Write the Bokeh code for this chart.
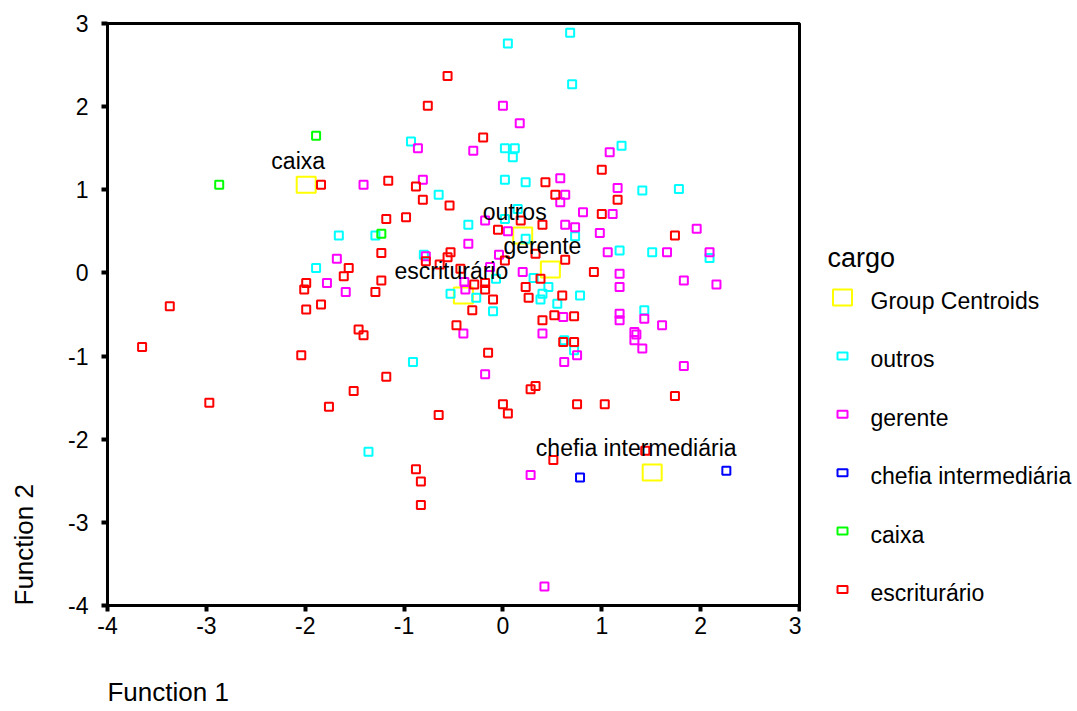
from bokeh.plotting import figure
from bokeh.models import FixedTicker, PrintfTickFormatter, Range1d, LinearAxis
from bokeh.layouts import row
from bokeh.embed import file_html
from bokeh.resources import INLINE
from bokeh.core.properties import value

FONT = "Liberation Sans"

# ---- data ----
ticks = [-4, -3, -2, -1, 0, 1, 2, 3]

legend_title = "cargo"
categories = ["outros", "gerente", "chefia intermediária", "caixa", "escriturário"]
colors = ["#00FFFF", "#FF00FF", "#0000FF", "#00FF00", "#FF0000"]

outros_x = [0.68, 0.05, 0.70, -0.93, 0.02, 0.12, 0.10, 1.20, -0.65, 0.02,
            0.23, 1.41, 1.78, -1.66, -1.29, -1.89, -0.80, -0.35, 0.02, 0.15,
            0.23, 0.73, 1.18, 1.51, 2.09, -0.53, -0.27, -0.07, 0.31, 0.46,
            0.38, 0.40, 0.78, 0.55, -0.10, 1.43, 0.62, 0.72, -0.91, -1.36]
outros_y = [2.89, 2.76, 2.27, 1.58, 1.50, 1.50, 1.39, 1.53, 0.94, 1.12,
            1.09, 0.99, 1.01, 0.45, 0.45, 0.06, 0.22, 0.58, 0.65, 0.77,
            0.41, 0.44, 0.27, 0.25, 0.18, -0.25, -0.30, -0.07, -0.06, -0.17,
            -0.32, -0.25, -0.27, -0.37, -0.46, -0.45, -0.81, -0.93, -1.07, -2.15]

gerente_x = [0.00, 0.17, -0.86, -0.30, 1.08, -0.81, -1.41, 0.58, 0.63, 0.58,
             1.16, 0.81, 1.11, -0.18, 0.05, 0.63, 0.73, 0.98, 1.96, -0.35,
             -0.04, 1.06, 1.66, 2.09, -1.68, -0.78, -0.13, 0.20, 1.18, 1.18,
             1.83, 2.16, -1.78, -1.59, -0.39, -0.38, 1.18, 1.18, 1.43, 1.61,
             0.61, -0.40, 0.40, 1.33, 1.35, 1.33, 1.41, 0.75, 0.62, 1.83,
             -0.18, 0.28, 0.42]
gerente_y = [2.01, 1.80, 1.50, 1.47, 1.45, 1.12, 1.06, 1.14, 0.94, 0.85,
             1.02, 0.73, 0.71, 0.63, 0.50, 0.58, 0.55, 0.48, 0.53, 0.35,
             0.22, 0.25, 0.25, 0.25, 0.17, 0.20, 0.07, 0.01, -0.01, -0.17,
             -0.09, -0.14, -0.12, -0.23, -0.11, -0.20, -0.49, -0.57, -0.55, -0.63,
             -0.53, -0.73, -0.73, -0.71, -0.74, -0.81, -0.91, -0.99, -1.07, -1.12,
             -1.22, -2.43, -3.77]

chefia_x = [0.78, 2.26]
chefia_y = [-2.46, -2.38]

caixa_x = [-1.89, -2.87, -1.23]
caixa_y = [1.65, 1.06, 0.47]

escrit_x = [-0.56, -0.76, -0.20, 1.00, -1.84, -1.16, -0.88, -0.81, 0.43, 0.53,
            1.16, -0.54, -1.18, -0.98, 1.00, 0.18, -0.05, 0.40, 1.74, -1.23,
            -0.78, -0.53, -0.56, -0.64, -0.43, 0.02, 0.33, 0.63, -1.56, -1.61,
            -1.99, -2.01, -1.23, -1.29, 0.38, 0.92, -0.29, -0.18, -0.18, 0.23,
            -0.10, 0.26, 0.60, -0.31, 0.40, 0.52, 0.72, -0.47, 0.61, 0.72,
            -0.15, 0.28, 0.33, 0.00, 0.05, 0.75, 1.03, 1.74, 1.44, 0.51,
            -1.84, -1.99, -3.37, -3.65, -1.46, -1.41, -2.04, -1.18, -1.51, -2.97,
            -1.76, -0.65, -0.88, -0.83, -0.83]
escrit_y = [2.37, 2.01, 1.63, 1.24, 1.06, 1.11, 1.04, 0.88, 1.09, 0.94,
            0.88, 0.81, 0.65, 0.67, 0.71, 0.63, 0.52, 0.58, 0.45, 0.24,
            0.14, 0.25, 0.19, 0.10, 0.05, 0.15, 0.23, 0.16, 0.06, -0.04,
            -0.12, -0.20, -0.09, -0.23, -0.07, 0.01, -0.14, -0.12, -0.20, -0.17,
            -0.32, -0.30, -0.27, -0.45, -0.57, -0.51, -0.52, -0.63, -0.83, -0.83,
            -0.96, -1.40, -1.36, -1.58, -1.69, -1.58, -1.58, -1.48, -2.14, -2.25,
            -0.38, -0.44, -0.40, -0.89, -0.68, -0.75, -0.99, -1.25, -1.42, -1.56,
            -1.61, -1.71, -2.36, -2.51, -2.79]

centroid_label = "Group Centroids"
centroid_names = ["caixa", "outros", "gerente", "escriturário", "chefia intermediária"]
centroid_x = [-1.99, 0.20, 0.48, -0.40, 1.51]
centroid_y = [1.06, 0.45, 0.04, -0.27, -2.40]

series_x = [outros_x, gerente_x, chefia_x, caixa_x, escrit_x]
series_y = [outros_y, gerente_y, chefia_y, caixa_y, escrit_y]

x_title = "Function 1"
y_title = "Function 2"

# label nudges (style only, pixels)
label_dx = [-8, -8, -8, -12, -16]

# ---- main plot ----
p = figure(width=801, height=711, x_range=(-4, 3), y_range=(-4, 3),
           output_backend="svg", toolbar_location=None,
           min_border_left=107, min_border_right=2,
           min_border_top=23, min_border_bottom=106)
p.xgrid.visible = False
p.ygrid.visible = False
p.outline_line_color = "black"
p.outline_line_width = 3
p.outline_line_alpha = 1.0
p.background_fill_color = "white"
p.border_fill_color = "white"

for ax in (p.xaxis[0], p.yaxis[0]):
    ax.ticker = FixedTicker(ticks=ticks)
    ax.formatter = PrintfTickFormatter(format="%d")
    ax.axis_line_width = 3
    ax.axis_line_color = "black"
    ax.major_tick_in = 0
    ax.major_tick_out = 6
    ax.major_tick_line_width = 4
    ax.major_tick_line_color = "black"
    ax.minor_tick_line_color = None
    ax.major_label_text_font = FONT
    ax.major_label_text_font_size = "23px"
    ax.major_label_text_color = "black"
p.yaxis[0].major_label_standoff = 13
p.xaxis[0].major_label_standoff = 5

# axis titles: SPSS puts them at the start of each axis; drawn as the single
# label of an extra, line-less axis (centred on its one tick)
TITLE_PX = 26
half_title = 4.669 * TITLE_PX / 2.0      # half the width of "Function n"
x_title_at = ticks[0] + half_title / (692 / 7.0)
y_title_at = ticks[0] + half_title / (582 / 7.0)

def title_axis(at, text, standoff, orient):
    return LinearAxis(ticker=FixedTicker(ticks=[at]),
                      major_label_overrides={at: text},
                      major_label_standoff=standoff,
                      major_label_orientation=orient,
                      major_label_text_font=FONT,
                      major_label_text_font_size=f"{TITLE_PX}px",
                      major_label_text_color="black",
                      axis_line_color=None, major_tick_line_color=None,
                      minor_tick_line_color=None, major_tick_in=0, major_tick_out=0)

p.add_layout(title_axis(x_title_at, x_title, 40, "horizontal"), "below")
p.add_layout(title_axis(y_title_at, y_title, 26, "parallel"), "left")

# centroids (drawn first, points on top)
p.rect(x=centroid_x, y=centroid_y, width=19, height=16,
       width_units="screen", height_units="screen",
       fill_color=None, line_color="#FFFF00", line_width=2)

for xs, ys, c in zip(series_x, series_y, colors):
    p.scatter(x=xs, y=ys, marker="square", size=8, fill_color=None,
              line_color=c, line_width=2)

p.text(x=centroid_x, y=centroid_y, text=centroid_names,
       text_font=value(FONT), text_font_size="23px", text_color="black",
       text_align="center", text_baseline="alphabetic",
       x_offset=label_dx, y_offset=-24)

# ---- legend panel (own canvas; its frame is aligned with the plot frame,
#      coordinates are pixels of the page) ----
lg = figure(width=276, height=711, output_backend="svg", toolbar_location=None,
            x_range=Range1d(801, 1077), y_range=Range1d(605, 23),
            min_border_left=0, min_border_right=0,
            min_border_top=23, min_border_bottom=106)
lg.axis.visible = False
lg.grid.visible = False
lg.outline_line_color = None
lg.background_fill_color = "white"
lg.border_fill_color = "white"

step = 58.4
labels = [centroid_label] + categories
bases = [300.5 + step * i for i in range(len(labels))]
keys = [297 + step * i for i in range(len(labels))]

lg.text(x=[827], y=[257], text=[legend_title], text_font=value(FONT),
        text_font_size="27px", text_color="black", text_baseline="alphabetic")
lg.text(x=[870] * len(labels), y=bases, text=labels, text_font=value(FONT),
        text_font_size="23px", text_color="black", text_baseline="alphabetic")
lg.rect(x=[842], y=keys[:1], width=19, height=16, fill_color=None,
        line_color="#FFFF00", line_width=2)
lg.rect(x=[842] * len(categories), y=keys[1:], width=10, height=7,
        fill_color=None, line_color=colors, line_width=2)

layout = row(p, lg, spacing=0)
open("out.html", "w").write(file_html(layout, INLINE))
